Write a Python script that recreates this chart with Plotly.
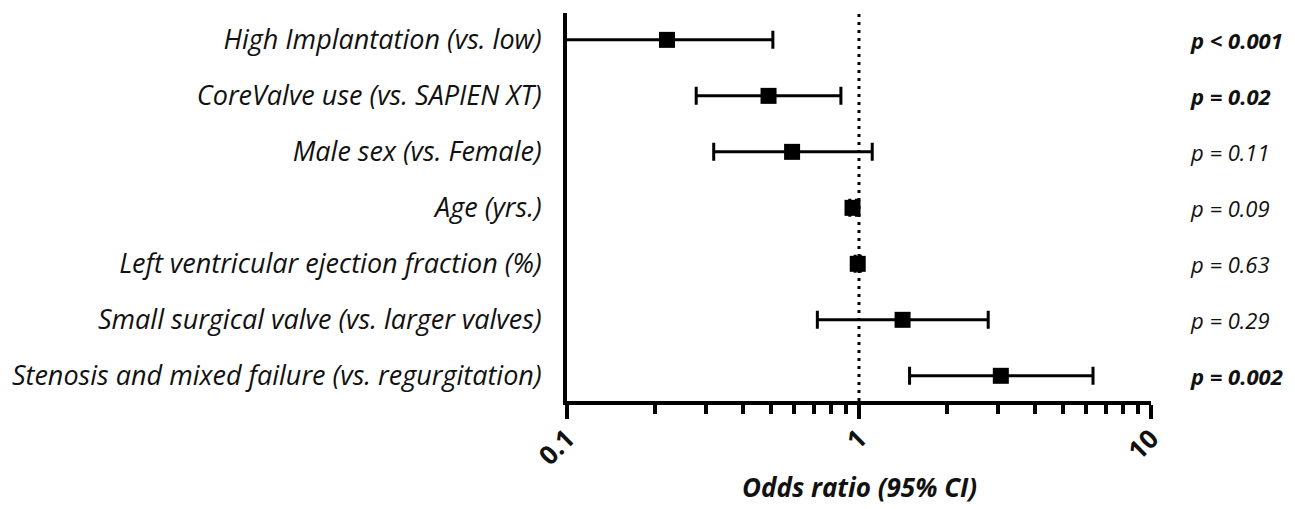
import plotly.graph_objects as go

categories = [
    "High Implantation (vs. low)",
    "CoreValve use (vs. SAPIEN XT)",
    "Male sex (vs. Female)",
    "Age (yrs.)",
    "Left ventricular ejection fraction (%)",
    "Small surgical valve (vs. larger valves)",
    "Stenosis and mixed failure (vs. regurgitation)",
]
odds_ratio = [0.22, 0.49, 0.59, 0.95, 0.99, 1.41, 3.06]
ci_low = [0.09, 0.277, 0.318, 0.93, 0.97, 0.72, 1.49]
ci_high = [0.507, 0.867, 1.11, 0.98, 1.01, 2.77, 6.33]
p_values = ["p < 0.001", "p = 0.02", "p = 0.11", "p = 0.09", "p = 0.63", "p = 0.29", "p = 0.002"]
p_bold = [True, True, False, False, False, False, True]
x_ticks = [0.1, 1, 10]
x_tick_labels = ["0.1", "1", "10"]
minor_ticks = [0.2, 0.3, 0.4, 0.5, 0.6, 0.7, 0.8, 0.9, 2, 3, 4, 5, 6, 7, 8, 9]

FONT = "Open Sans"
ypos = list(range(len(categories)))

fig = go.Figure()
fig.add_trace(go.Scatter(
    x=odds_ratio, y=ypos, mode="markers",
    marker=dict(symbol="square", size=16, color="black"),
    error_x=dict(type="data", symmetric=False,
                 array=[h - o for h, o in zip(ci_high, odds_ratio)],
                 arrayminus=[o - l for o, l in zip(odds_ratio, ci_low)],
                 color="black", thickness=3, width=9),
    showlegend=False,
))

fig.add_shape(type="line", xref="x", yref="paper", x0=1, x1=1, y0=0, y1=1,
              line=dict(color="black", width=3, dash="3px,5px"), layer="below")

for i, (p, b) in enumerate(zip(p_values, p_bold)):
    txt = f"<b>{p}</b>" if b else p
    fig.add_annotation(x=1, xref="paper", y=i, yref="y", text=txt, showarrow=False,
                       xanchor="left", xshift=37,
                       font=dict(family=FONT, size=22, color="#111", style="italic"))

fig.add_annotation(x=0.5, xref="paper", y=0, yref="paper", yshift=-86, yanchor="middle",
                   text="<b>Odds ratio (95% CI)</b>", showarrow=False,
                   font=dict(family=FONT, size=26, color="#111", style="italic"))

fig.update_layout(
    width=1287, height=501,
    margin=dict(l=559, r=144, t=5, b=108),
    paper_bgcolor="white", plot_bgcolor="white",
    xaxis=dict(type="log", range=[-1, 1], tickmode="array", tickvals=x_ticks,
               ticktext=[f"<b>{t}</b>" for t in x_tick_labels], tickangle=-45,
               ticks="outside", ticklen=14, tickwidth=4, tickcolor="black",
               showline=True, linewidth=4, linecolor="black", showgrid=False, zeroline=False,
               ticklabelstandoff=-6,
               tickfont=dict(family=FONT, size=26, color="#111"),
               minor=dict(tickvals=minor_ticks, ticks="outside", ticklen=9, tickwidth=4,
                          tickcolor="black", showgrid=False)),
    yaxis=dict(range=[6.45, -0.48], tickmode="array", tickvals=ypos, ticktext=categories,
               ticks="", showline=True, linewidth=4, linecolor="black", showgrid=False,
               zeroline=False, ticklabelstandoff=16,
               tickfont=dict(family=FONT, size=27, color="#111", style="italic")),
)

fig.write_html("out.html")
